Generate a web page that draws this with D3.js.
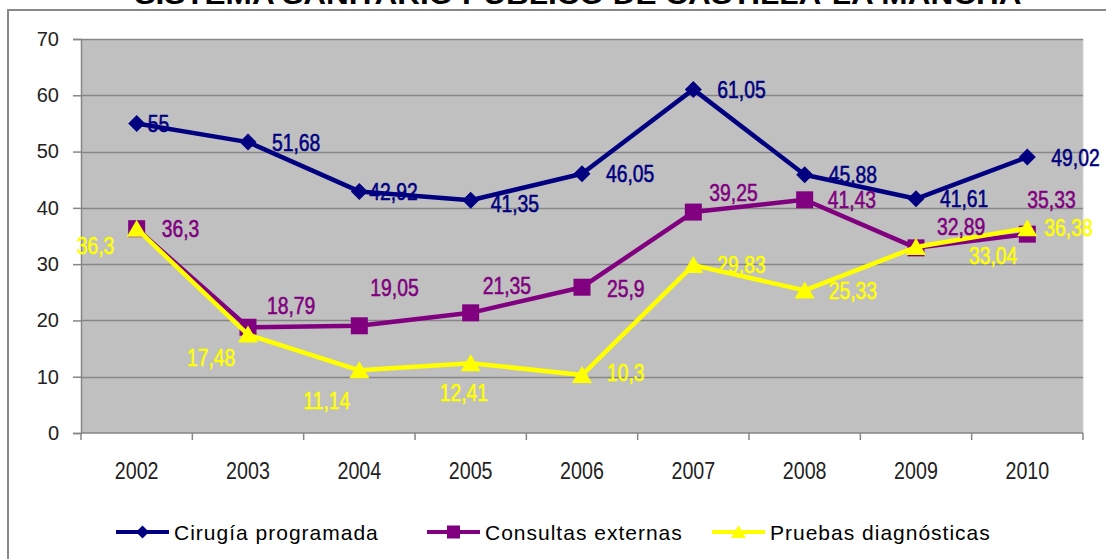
<!DOCTYPE html>
<html>
<head>
<meta charset="utf-8">
<script src="https://cdn.jsdelivr.net/npm/d3@7"></script>
<style>
  body { margin: 0; background: #fff; }
  svg { display: block; }
</style>
</head>
<body>
<svg id="chart"></svg>
<script>
// data
const years = ["2002", "2003", "2004", "2005", "2006", "2007", "2008", "2009", "2010"];
const cirugia = [55, 51.68, 42.92, 41.35, 46.05, 61.05, 45.88, 41.61, 49.02];
const consultas = [36.3, 18.79, 19.05, 21.35, 25.9, 39.25, 41.43, 32.89, 35.33];
const pruebas = [36.3, 17.48, 11.14, 12.41, 10.3, 29.83, 25.33, 33.04, 36.38];
const yTicks = [0, 10, 20, 30, 40, 50, 60, 70];
const seriesNames = ["Cirugía programada", "Consultas externas", "Pruebas diagnósticas"];
const title = "SISTEMA SANITARIO PÚBLICO DE CASTILLA-LA MANCHA";

// label nudges (left edge offset from point, vertical offset), like the hand-placed Excel labels
const cirugiaLabelOff = [[11,0],[24,0],[10,0],[20,3],[24,0],[24,0],[24,0],[24,0],[24,0]];
const consultasLabelOff = [[25,0],[19,-22],[11,-38],[12,-27],[25,1],[16,-20],[23,0],[21,-21],[0,-35]];
const pruebasLabelOff = [[-60,17],[-61,23],[-56,30],[-31,29],[25,-2],[24,-1],[24,0],[53,8],[17,-1]];

const w = 1106, h = 559;
const margin = { top: 39, right: 23, bottom: 126, left: 81 };

const svg = d3.select("#chart").attr("width", w).attr("height", h);

// outer frame (only top + left visible)
svg.append("path")
    .attr("d", `M8,${h} L8,10 L${w},10`)
    .attr("fill", "none")
    .attr("stroke", "#888")
    .attr("stroke-width", 2);

svg.append("text")
    .attr("x", 578)
    .attr("y", 4)
    .attr("text-anchor", "middle")
    .style("font-family", "'Liberation Sans', Arial, sans-serif")
    .style("font-weight", "bold")
    .style("font-size", "27px")
    .attr("textLength", 887)
    .attr("lengthAdjust", "spacingAndGlyphs")
    .text(title);

const xScale = d3.scaleBand()
    .domain(years)
    .range([margin.left, w - margin.right]);

const yScale = d3.scaleLinear()
    .domain([0, 70])
    .range([h - margin.bottom, margin.top]);

const xc = d => xScale(d) + xScale.bandwidth() / 2;

// plot background
svg.append("rect")
    .attr("x", margin.left)
    .attr("y", margin.top)
    .attr("width", w - margin.right - margin.left)
    .attr("height", h - margin.bottom - margin.top)
    .attr("fill", "#c0c0c0");

svg.append("line")
    .attr("x1", w - margin.right).attr("x2", w - margin.right)
    .attr("y1", margin.top).attr("y2", h - margin.bottom)
    .attr("stroke", "#d4d4d4");

// gridlines
svg.append("g")
    .selectAll("line")
    .data(yTicks.filter(t => t > 0))
    .join("line")
    .attr("x1", margin.left)
    .attr("x2", w - margin.right)
    .attr("y1", d => Math.round(yScale(d)) + 0.5)
    .attr("y2", d => Math.round(yScale(d)) + 0.5)
    .attr("stroke", "#868686")
    .attr("stroke-width", 1.5);

// y axis
let yAxis = g => g
    .attr("transform", `translate(${margin.left},0)`)
    .call(d3.axisLeft(yScale).tickValues(yTicks).tickSize(8).tickPadding(14))
    .call(g => g.selectAll(".domain, line").attr("stroke", "#868686").attr("stroke-width", 1.5))
    .call(g => g.selectAll("text")
        .style("font-family", "'Liberation Sans', Arial, sans-serif")
        .style("font-size", "20px")
        .attr("fill", "#222"));

svg.append("g").call(yAxis);

// x axis, ticks at the category boundaries
const bounds = d3.range(years.length + 1).map(i => margin.left + i * xScale.bandwidth());
const xAxisG = svg.append("g");
xAxisG.append("line")
    .attr("x1", margin.left).attr("x2", w - margin.right)
    .attr("y1", yScale(0)).attr("y2", yScale(0))
    .attr("stroke", "#868686").attr("stroke-width", 1.5);
xAxisG.selectAll(".tk")
    .data(bounds)
    .join("line")
    .attr("class", "tk")
    .attr("x1", d => d).attr("x2", d => d)
    .attr("y1", yScale(0)).attr("y2", yScale(0) + 7)
    .attr("stroke", "#868686").attr("stroke-width", 1.5);
// narrow tall labels: squeeze horizontally
xAxisG.selectAll("text")
    .data(years)
    .join("text")
    .attr("transform", d => `translate(${xc(d)},479) scale(0.82,1)`)
    .attr("text-anchor", "middle")
    .style("font-family", "'Liberation Sans', Arial, sans-serif")
    .style("font-size", "24px")
    .attr("fill", "#222")
    .text(d => d);

// markers
const diamond = s => `M0,${-s} L${s},0 L0,${s} L${-s},0 Z`;
const square = s => `M${-s},${-s} H${s} V${s} H${-s} Z`;
const triangle = s => `M0,${-s * 0.9} L${s},${s * 0.8} L${-s},${s * 0.8} Z`;

const series = [
    { name: seriesNames[0], values: cirugia, color: "#000080", marker: diamond, size: 8.5, lsize: 6.5, off: cirugiaLabelOff },
    { name: seriesNames[1], values: consultas, color: "#800080", marker: square, size: 8.5, lsize: 6.5, off: consultasLabelOff },
    { name: seriesNames[2], values: pruebas, color: "#ffff00", marker: triangle, size: 10, lsize: 7.5, off: pruebasLabelOff }
];

const line = d3.line()
    .x((d, i) => xc(years[i]))
    .y(d => yScale(d));

series.forEach(s => {
    const g = svg.append("g");
    g.append("path")
        .attr("d", line(s.values))
        .attr("fill", "none")
        .attr("stroke", s.color)
        .attr("stroke-width", 4.5)
        .attr("stroke-linejoin", "round");
    g.selectAll("path.m")
        .data(s.values)
        .join("path")
        .attr("class", "m")
        .attr("transform", (d, i) => `translate(${xc(years[i])},${yScale(d)})`)
        .attr("d", s.marker(s.size))
        .attr("fill", s.color);
});

// data labels on top
series.forEach(s => {
    svg.append("g")
        .selectAll("text")
        .data(s.values)
        .join("text")
        .attr("transform", (d, i) => `translate(${xc(years[i]) + s.off[i][0]},${yScale(d) + s.off[i][1]}) scale(0.92,1.12)`)
        .attr("dy", "0.36em")
        .style("font-family", "'Liberation Sans', Arial, sans-serif")
        .style("font-size", "21px")
        .attr("fill", s.color)
        .attr("stroke", s.color)
        .attr("stroke-width", 0.5)
        .text(d => String(d).replace(".", ","));
});

// legend
const legendX = [116, 427, 712];
const legend = svg.append("g");
series.forEach((s, i) => {
    const g = legend.append("g").attr("transform", `translate(${legendX[i]},532)`);
    g.append("line")
        .attr("x1", 0).attr("x2", 53)
        .attr("stroke", s.color).attr("stroke-width", 4);
    g.append("path")
        .attr("transform", "translate(26.5,0)")
        .attr("d", s.marker(s.lsize))
        .attr("fill", s.color);
    g.append("text")
        .attr("x", 58)
        .attr("dy", "0.36em")
        .style("font-family", "'Liberation Sans', Arial, sans-serif")
        .style("font-size", "21px")
        .style("letter-spacing", "1px")
        .attr("fill", "#000")
        .text(s.name);
});
</script>
</body>
</html>
